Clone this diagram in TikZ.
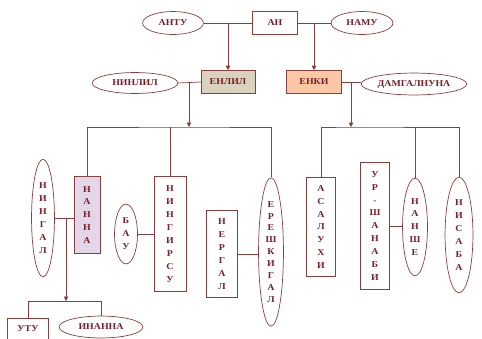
\documentclass[tikz,border=0pt]{standalone}
\usepackage{fontspec}
\setmainfont{Liberation Serif}[FakeStretch=1.1]
\usetikzlibrary{shapes.geometric,arrows.meta}

\definecolor{linered}{RGB}{140,62,62}
\definecolor{txtred}{RGB}{122,30,42}
\definecolor{enlilfill}{RGB}{216,210,190}
\definecolor{enkifill}{RGB}{250,200,165}
\definecolor{nannafill}{RGB}{226,214,232}

\begin{document}
\begin{tikzpicture}[x=1bp,y=-1bp,
	every node/.style={font=\bfseries\fontsize{9}{13}\selectfont, text=txtred, inner sep=0pt, align=center},
	god/.style={draw=linered, line width=0.7pt, rectangle},
	wife/.style={draw=linered, line width=0.7pt, ellipse, inner sep=-3pt},
	link/.style={draw=linered, line width=0.7pt},
	down/.style={link, -{Triangle[length=4.5pt,width=4.5pt]}}]
				
				\useasboundingbox (0,0) rectangle (482,338);
				
				\node[wife, minimum width=61, minimum height=23] (antu) at (173,23) {АНТУ};
				\node[god, minimum width=45, minimum height=23] (an) at (275,23) {АН};
				\node[wife, minimum width=62, minimum height=23] (namu) at (362,23) {НАМУ};
				
				\node[wife, minimum width=86, minimum height=21] (ninlil) at (135,83) {НИНЛИЛ};
				\node[god, fill=enlilfill, minimum width=54, minimum height=23] (enlil) at (228,82) {ЕНЛИЛ};
				\node[god, fill=enkifill, minimum width=55, minimum height=23] (enki) at (314,82) {ЕНКИ};
				\node[wife, inner xsep=-12pt, minimum width=106, minimum height=22] (damgal) at (414,84) {ДАМГАЛНУНА};
				
				\node[wife, minimum width=23, minimum height=118] (ningal) at (43,218) {Н\\И\\Н\\Г\\А\\Л};
				\node[god, fill=nannafill, minimum width=26, minimum height=77] (nanna) at (87,215) {Н\\А\\Н\\Н\\А};
				\node[wife, minimum width=23, minimum height=60] (bau) at (126,234) {Б\\А\\У};
				\node[god, minimum width=32, minimum height=115] (ningirsu) at (170,234) {Н\\И\\Н\\Г\\И\\Р\\С\\У};
				\node[god, minimum width=31, minimum height=88] (nergal) at (222,254) {Н\\Е\\Р\\Г\\А\\Л};
				\node[wife, minimum width=25, minimum height=149, font=\bfseries\fontsize{9}{12}\selectfont] (ereshkigal) at (271,252) {Е\\Р\\Е\\Ш\\К\\И\\Г\\А\\Л};
				
				\node[god, minimum width=29, minimum height=100] (asaluhi) at (321,227) {А\\С\\А\\Л\\У\\Х\\И};
				\node[god, minimum width=29, minimum height=127] (urshanabi) at (375,226) {У\\Р\\-\\Ш\\А\\Н\\А\\Б\\И};
				\node[wife, minimum width=25, minimum height=98] (nanshe) at (415,227) {Н\\А\\Н\\Ш\\Е};
				\node[wife, minimum width=28, minimum height=116] (nisaba) at (459,235) {Н\\И\\С\\А\\Б\\А};
				
				\node[god, minimum width=41, minimum height=21] (utu) at (28,329) {УТУ};
				\node[wife, minimum width=84, minimum height=22] (inanna) at (101,327) {ИНАННА};
				
				\coordinate (lbus) at (189,127);
				\coordinate (rbus) at (351,127);
				\coordinate (nbus) at (66,301);
				
				\draw[link] (antu.east) -- (an.west);
				\draw[link] (an.east) -- (namu.west);
				\draw[down] (enlil.north |- an.west) -- (enlil.north);
				\draw[down] (enki.north |- an.east) -- (enki.north);
				
				\draw[link] (ninlil.east) -- (enlil.west);
				\draw[down] (enlil.west -| lbus) -- (lbus);
				\draw[link] (nanna.north) |- (lbus) -| (ereshkigal.north);
				\draw[link] (ningirsu.north) -- (ningirsu.north |- lbus);
				
				\draw[link] (enki.east) -- (enki.east -| damgal.west);
				\draw[down] (enki.east -| rbus) -- (rbus);
				\draw[link] (asaluhi.north) |- (rbus) -| (nisaba.north);
				\draw[link] (nanshe.north) -- (nanshe.north |- rbus);
				
				\draw[link] (bau.east) -- (ningirsu.west);
				\draw[link] (nergal.east) -- (nergal.east -| ereshkigal.west);
				\draw[link] (urshanabi.east) -- (urshanabi.east -| nanshe.west);
				
				\draw[link] (ningal.east) -- (ningal.east -| nanna.west);
				\draw[down] (ningal.east -| nbus) -- (nbus);
				\draw[link] (utu.north) |- (nbus) -| (inanna.north);
			\end{tikzpicture}
\end{document}
